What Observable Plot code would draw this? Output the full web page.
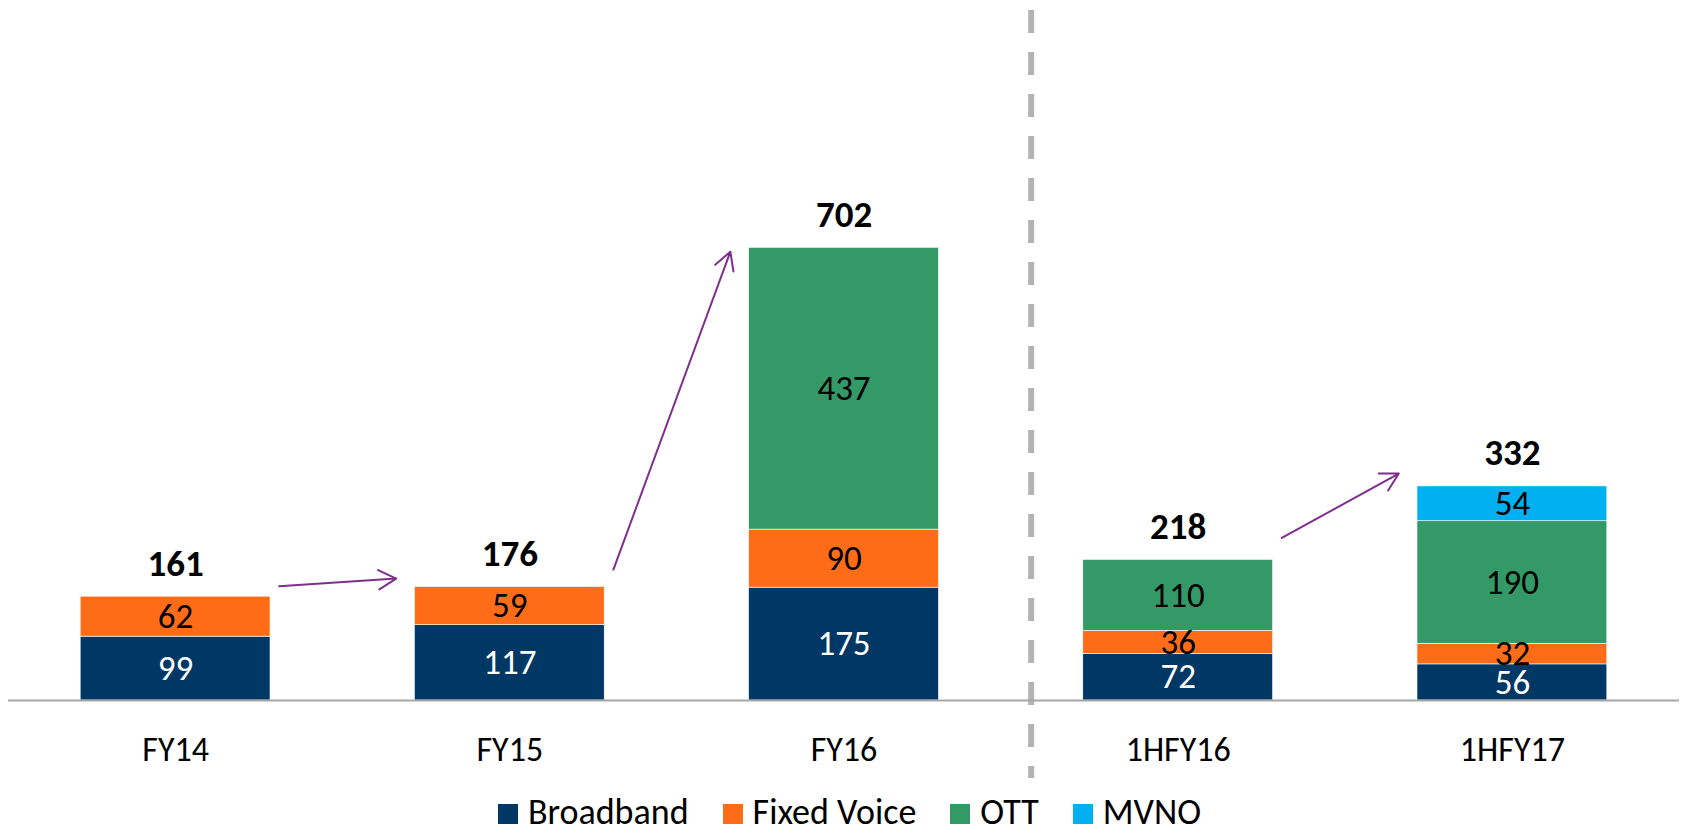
<!DOCTYPE html>
<html>
<head>
<meta charset="utf-8">
<script src="https://cdn.jsdelivr.net/npm/d3@7"></script>
<script src="https://cdn.jsdelivr.net/npm/@observablehq/plot@0.6"></script>
<style>
  html, body { margin: 0; padding: 0; background: #fff; }
  body { width: 1683px; height: 834px; overflow: hidden; font-family: Carlito, Calibri, Lato, sans-serif; }
  #chart svg { display: block; }
  #legend { display: flex; justify-content: center; align-items: center; height: 44px; padding-left: 16px; font-size: 36px; color: #000; }
  .item { display: flex; align-items: center; margin: 0 17px; }
  .sw { width: 20px; height: 20px; margin-right: 10px; margin-top: 4px; }
</style>
</head>
<body>
<div id="chart"></div>
<div id="legend"></div>
<script>
// ---- data ----
const periods = ["FY14", "FY15", "FY16", "1HFY16", "1HFY17"];
const series = ["Broadband", "Fixed Voice", "OTT", "MVNO"];
const broadband = [99, 117, 175, 72, 56];
const fixedVoice = [62, 59, 90, 36, 32];
const ott = [0, 0, 437, 110, 190];
const mvno = [0, 0, 0, 0, 54];
const totals = [161, 176, 702, 218, 332];
const colors = ["#003865", "#FF6C17", "#339966", "#00B0F0"];
const labelColors = ["#ffffff", "#000000", "#000000", "#000000"];
// growth arrows: from period index -> to period index, start/end values
const arrowFrom = [0, 1, 3];
const arrowTo = [1, 2, 4];
const arrowStart = [177, 203, 252];
const arrowEnd = [189, 696, 352];
const separatorAt = 2.56; // between FY16 and 1HFY16

// ---- derived table ----
const seriesValues = [broadband, fixedVoice, ott, mvno];
const segments = [];
periods.forEach((p, i) => {
  let base = 0;
  seriesValues.forEach((vals, s) => {
    const v = vals[i];
    if (v > 0) segments.push({i, period: p, series: series[s], value: v, y1: base, y2: base + v, labelColor: labelColors[s]});
    base += v;
  });
});
const totalRows = periods.map((p, i) => ({i, total: totals[i]}));
const arrows = arrowFrom.map((f, k) => ({x1: f + 0.31, y1: arrowStart[k], x2: arrowTo[k] - 0.34, y2: arrowEnd[k]}));
const half = 0.284;

const chart = Plot.plot({
  width: 1683,
  height: 790,
  marginLeft: 8,
  marginRight: 4,
  marginTop: 10,
  marginBottom: 90,
  style: {fontFamily: "Carlito, Calibri, Lato, sans-serif", fontSize: "34px", color: "#000", background: "#fff"},
  x: {domain: [-0.5, periods.length - 0.5]},
  y: {domain: [0, 1070], axis: null},
  color: {domain: series, range: colors},
  marks: [
    Plot.ruleX([separatorAt], {stroke: "#b3b3b3", strokeWidth: 6, strokeDasharray: "23,19", insetBottom: -78}),
    Plot.rectY(segments, {x1: d => d.i - half, x2: d => d.i + half, y1: "y1", y2: "y2", fill: "series", stroke: "#ffffff", strokeWidth: 0.6}),
    Plot.ruleY([0], {stroke: "#a6a6a6", strokeWidth: 2}),
    Plot.text(segments, {x: "i", y: d => (d.y1 + d.y2) / 2, text: d => String(d.value), fill: "labelColor", fontSize: 35}),
    Plot.text(totalRows, {x: "i", y: "total", text: d => String(d.total), dy: -33, fontWeight: "bold", fontSize: 37, fill: "#000"}),
    Plot.arrow(arrows, {x1: "x1", y1: "y1", x2: "x2", y2: "y2", stroke: "#7E2F8E", strokeWidth: 2, headAngle: 58, headLength: 15, bend: 0}),
    Plot.axisX({ticks: d3.range(periods.length), tickFormat: i => periods[i], tickSize: 0, tickPadding: 36, fontSize: 34, fill: "#000"})
  ]
});
document.getElementById("chart").appendChild(chart);

const legend = document.getElementById("legend");
series.forEach((s, k) => {
  const item = document.createElement("div");
  item.className = "item";
  const sw = document.createElement("span");
  sw.className = "sw";
  sw.style.background = colors[k];
  const t = document.createElement("span");
  t.textContent = s;
  item.appendChild(sw);
  item.appendChild(t);
  legend.appendChild(item);
});
</script>
</body>
</html>
